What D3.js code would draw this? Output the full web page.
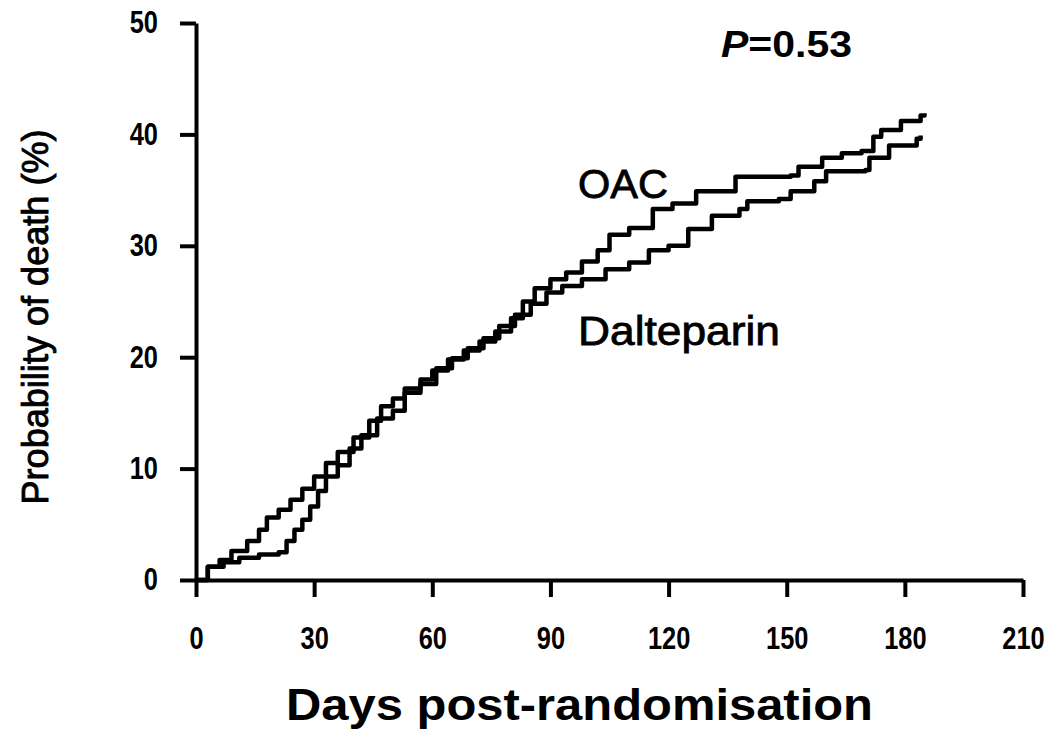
<html>
  <head>
    <meta charset="UTF-8" />
    <style>
      body { margin: 0; background: white; }
    </style>
    <script src="https://d3js.org/d3.v7.min.js"></script>
  </head>

  <body>
    <svg id="svg"></svg>

    <script>
      // Kaplan-Meier style step curves (day, % dead)
      var oacDays = [0, 3, 6, 9, 13, 16, 18, 21, 24, 27, 30, 33, 36, 40, 44, 47, 50, 53, 57, 60, 64, 68, 72, 76, 80, 83, 86, 90, 94, 98, 102, 105, 110, 116, 121, 127, 137, 151, 153, 159, 164, 169, 172, 174, 179, 184, 185];
      var oacPct = [0, 1.2, 1.8, 2.6, 3.5, 4.5, 5.6, 6.3, 7.2, 8.2, 9.3, 10.5, 11.5, 12.8, 14.3, 15.6, 16.3, 17.2, 18.0, 18.8, 19.8, 20.6, 21.4, 22.3, 23.5, 25.0, 26.2, 27.0, 27.6, 28.6, 29.6, 31.0, 31.6, 33.3, 33.8, 34.9, 36.2, 36.3, 37.1, 37.9, 38.3, 38.5, 39.8, 40.4, 41.2, 41.7, 41.9];

      var dalDays = [0, 3, 7, 11, 16, 21, 23, 25, 27, 29, 31, 33, 36, 39, 42, 46, 50, 53, 57, 61, 65, 69, 73, 77, 81, 85, 89, 93, 98, 104, 110, 115, 120, 125, 131, 138, 140, 148, 151, 157, 160, 170, 171, 176, 183, 184];
      var dalPct = [0, 1.2, 1.6, 2.0, 2.3, 2.5, 3.5, 4.5, 5.4, 6.6, 8.0, 9.3, 10.3, 11.8, 13.0, 14.5, 15.2, 16.8, 17.6, 19.0, 19.9, 20.8, 21.7, 22.8, 23.8, 24.8, 25.8, 26.4, 27.0, 27.9, 28.5, 29.6, 30.0, 31.5, 32.7, 33.3, 34.0, 34.2, 34.9, 35.8, 36.7, 36.8, 37.9, 39.0, 39.6, 39.9];

      var xTicks = [0, 30, 60, 90, 120, 150, 180, 210];
      var yTicks = [0, 10, 20, 30, 40, 50];

      var width = 1057,
        height = 739;

      var svg = d3.select("#svg").attr("width", width).attr("height", height);

      var x = d3.scaleLinear().domain([0, 210]).range([196, 1023]);
      var y = d3.scaleLinear().domain([0, 50]).range([580, 23]);

      var tickFont = "'Liberation Sans', Arial, sans-serif";
      var squeeze = 0.82; // tick digits in the scan are narrow

      // y axis
      var yAxis = svg
        .append("g")
        .attr("transform", "translate(" + x(0) + ",0)")
        .call(d3.axisLeft(y).tickValues(yTicks).tickSize(16).tickSizeOuter(0).tickPadding(22));

      // x axis
      var xAxis = svg
        .append("g")
        .attr("transform", "translate(0," + y(0) + ")")
        .call(d3.axisBottom(x).tickValues(xTicks).tickSize(17).tickSizeOuter(0).tickPadding(30));

      [yAxis, xAxis].forEach((ax) => {
        ax.select(".domain").attr("stroke", "black").attr("stroke-width", 4);
        ax.selectAll(".tick line").attr("stroke", "black").attr("stroke-width", 4);
        ax.selectAll(".tick text")
          .attr("fill", "black")
          .style("font-family", tickFont)
          .style("font-weight", "bold")
          .style("font-size", "31px");
      });

      xAxis.selectAll(".tick text").attr("transform", "scale(" + squeeze + ",1)");
      yAxis.selectAll(".tick text")
        .attr("x", -38 / squeeze)
        .attr("transform", "scale(" + squeeze + ",1)");

      // curves
      var line = d3
        .line()
        .x((d) => x(d[0]))
        .y((d) => y(d[1]))
        .curve(d3.curveStepAfter);

      var oac = oacDays.map((d, i) => [d, oacPct[i]]);
      var dal = dalDays.map((d, i) => [d, dalPct[i]]);

      svg
        .append("g")
        .selectAll("path")
        .data([oac, dal])
        .enter()
        .append("path")
        .attr("d", line)
        .attr("fill", "none")
        .attr("stroke", "black")
        .attr("stroke-width", 4.5)
        .attr("stroke-linejoin", "round");

      // labels
      var labelFont = "'Liberation Sans', Arial, Helvetica, sans-serif";

      svg
        .append("text")
        .attr("x", 578)
        .attr("y", 198)
        .attr("textLength", 90)
        .attr("lengthAdjust", "spacingAndGlyphs")
        .attr("stroke", "black")
        .attr("stroke-width", 0.8)
        .style("font-family", labelFont)
        .style("font-size", "40px")
        .text("OAC");

      svg
        .append("text")
        .attr("x", 578)
        .attr("y", 345)
        .attr("textLength", 202)
        .attr("lengthAdjust", "spacingAndGlyphs")
        .attr("stroke", "black")
        .attr("stroke-width", 0.8)
        .style("font-family", labelFont)
        .style("font-size", "40px")
        .text("Dalteparin");

      var ptext = svg
        .append("text")
        .attr("x", 721)
        .attr("y", 57)
        .attr("textLength", 131)
        .attr("lengthAdjust", "spacingAndGlyphs")
        .style("font-family", labelFont)
        .style("font-weight", "bold")
        .style("font-size", "36px");
      ptext.append("tspan").style("font-style", "italic").text("P");
      ptext.append("tspan").text("=0.53");

      svg
        .append("text")
        .attr("transform", "translate(48,317) rotate(-90)")
        .attr("text-anchor", "middle")
        .attr("textLength", 375)
        .attr("lengthAdjust", "spacingAndGlyphs")
        .attr("stroke", "black")
        .attr("stroke-width", 0.9)
        .style("font-family", labelFont)
        .style("font-size", "36px")
        .text("Probability of death (%)");

      svg
        .append("text")
        .attr("x", 286)
        .attr("y", 720)
        .attr("textLength", 587)
        .attr("lengthAdjust", "spacingAndGlyphs")
        .style("font-family", labelFont)
        .style("font-weight", "bold")
        .style("font-size", "44px")
        .text("Days post-randomisation");
    </script>
  </body>
</html>
